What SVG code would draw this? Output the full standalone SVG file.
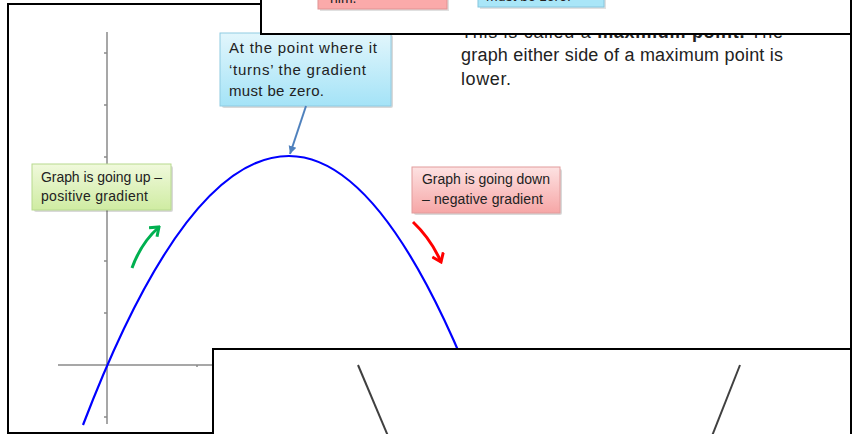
<svg xmlns="http://www.w3.org/2000/svg" width="853" height="434" viewBox="0 0 853 434">
<defs>
<linearGradient id="gBlue" x1="0" y1="0" x2="0" y2="1"><stop offset="0" stop-color="#e2f6fc"/><stop offset="1" stop-color="#a4e3f7"/></linearGradient>
<linearGradient id="gGreen" x1="0" y1="0" x2="0" y2="1"><stop offset="0" stop-color="#f0f9dc"/><stop offset="1" stop-color="#cfeca2"/></linearGradient>
<linearGradient id="gRed" x1="0" y1="0" x2="0" y2="1"><stop offset="0" stop-color="#fde2e2"/><stop offset="1" stop-color="#f6a6a6"/></linearGradient>
<marker id="mBlue" viewBox="-8 -5 10 10" markerWidth="10" markerHeight="10" refX="0" refY="0" orient="auto" markerUnits="userSpaceOnUse"><path d="M-8,-4 L0,0 L-8,4 Z" fill="#4f81bd"/></marker>
<marker id="mGreen" viewBox="-10 -7 12 14" markerWidth="12" markerHeight="14" refX="0" refY="0" orient="auto" markerUnits="userSpaceOnUse"><path d="M-8,-6 L0,0 L-8,6" fill="none" stroke="#00b050" stroke-width="3"/></marker>
<marker id="mRed" viewBox="-10 -7 12 14" markerWidth="12" markerHeight="14" refX="0" refY="0" orient="auto" markerUnits="userSpaceOnUse"><path d="M-8,-6 L0,0 L-8,6" fill="none" stroke="#ff0000" stroke-width="3"/></marker>
</defs>
<style>
.t{font-family:"Liberation Sans","Open Sans",sans-serif;fill:#222}
.c{font-size:14px}
.cb{font-size:15px}
.m{font-size:18px}
.frame{fill:#fff;stroke:#000;stroke-width:2}
.axis{stroke:#8a8a8a;stroke-width:1.5;fill:none}
.shadow{fill:#000;opacity:0.15}
</style>
<rect width="853" height="434" fill="#fff"/>
<rect id="slide" class="frame" x="8" y="4" width="843" height="429"/>

<g id="axes">
<line class="axis" x1="107" y1="32" x2="107" y2="424"/>
<line class="axis" x1="58" y1="365" x2="214" y2="365"/>
<path class="axis" d="M104,53h3M104,105h3M104,157h3M104,209h3M104,261h3M104,313h3M104,417h3M197,365v2"/>
</g>
<g id="curve">
<path d="M83,425 Q186,156 289,156 Q384.5,156 480,404" fill="none" stroke="#0000ff" stroke-width="2.2"/>
</g>

<g id="main-text">
<text class="t m" x="461" y="38" textLength="322"><tspan>This is called a </tspan><tspan font-weight="bold">maximum point.</tspan><tspan> The</tspan></text>
<text class="t m" x="461" y="61" textLength="322">graph either side of a maximum point is</text>
<text class="t m" x="461" y="85" textLength="50">lower.</text>
</g>

<g id="box-zero">
<rect class="shadow" x="222" y="35" width="171" height="73" rx="2"/>
<rect x="220" y="33" width="171" height="73" fill="url(#gBlue)" stroke="#8fcbe2" stroke-width="1"/>
<text class="t cb" x="229" y="53" textLength="148">At the point where it</text>
<text class="t cb" x="229" y="75" textLength="137">‘turns’ the gradient</text>
<text class="t cb" x="229" y="96" textLength="95">must be zero.</text>
</g>
<g id="box-up">
<rect class="shadow" x="34" y="166" width="139" height="46" rx="2"/>
<rect x="32" y="164" width="139" height="46" fill="url(#gGreen)" stroke="#b7da8e" stroke-width="1"/>
<text class="t c" x="41" y="182" textLength="121">Graph is going up –</text>
<text class="t c" x="41" y="201" textLength="107">positive gradient</text>
</g>
<g id="box-down">
<rect class="shadow" x="414" y="169" width="148" height="46" rx="2"/>
<rect x="412" y="167" width="148" height="46" fill="url(#gRed)" stroke="#e29c9c" stroke-width="1"/>
<text class="t c" x="422" y="184" textLength="128">Graph is going down</text>
<text class="t c" x="422" y="204" textLength="121">– negative gradient</text>
</g>

<g id="connectors">
<line x1="306" y1="106" x2="290" y2="154" stroke="#4f81bd" stroke-width="2" marker-end="url(#mBlue)"/>
<path d="M132,268 Q141,243 159,227" fill="none" stroke="#00b050" stroke-width="3" marker-end="url(#mGreen)"/>
<path d="M413,222 Q431,239 441,262" fill="none" stroke="#ff0000" stroke-width="3" marker-end="url(#mRed)"/>
</g>

<g id="overlay-top">
<rect class="frame" x="261" y="-10" width="590" height="44"/>
<rect x="320" y="-6" width="129" height="17" fill="#555" opacity="0.18"/>
<rect x="318" y="-8" width="129" height="17" fill="#fbaaaa" stroke="#e09393" stroke-width="1"/>
<text class="t c" x="330" y="3">nim.</text>
<rect x="480" y="-6" width="126" height="15" fill="#555" opacity="0.18"/>
<rect x="478" y="-8" width="126" height="15" fill="#a9e6f8" stroke="#86c6de" stroke-width="1"/>
<text class="t c" x="486" y="1">must be zero.</text>
</g>

<g id="overlay-bottom">
<rect class="frame" x="213" y="349" width="638" height="100"/>
<line x1="358" y1="365" x2="388" y2="436" stroke="#404040" stroke-width="2"/>
<line x1="740" y1="365" x2="712" y2="436" stroke="#404040" stroke-width="2"/>
</g>
</svg>
